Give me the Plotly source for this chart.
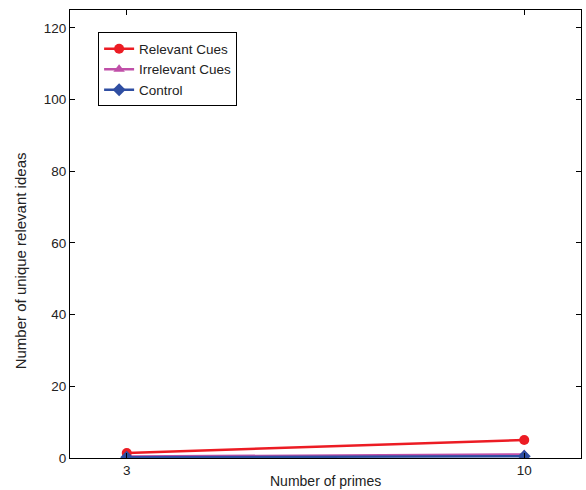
import plotly.graph_objects as go

primes = [3, 10]
relevant = [1.4, 5.0]
irrelevant = [0.4, 1.0]
control = [0.2, 0.5]

series = [
    ("Relevant Cues", relevant, "#ec1c24", "circle"),
    ("Irrelevant Cues", irrelevant, "#c04fa8", "triangle-up"),
    ("Control", control, "#2f4ea2", "diamond"),
]

fig = go.Figure()
for name, vals, col, sym in series:
    fig.add_trace(go.Scatter(
        x=primes, y=vals, name=name, mode="lines+markers",
        line=dict(color=col, width=2.5),
        marker=dict(symbol=sym, size=10, color=col),
    ))

axis_common = dict(
    showline=True, linecolor="black", linewidth=1, mirror="ticks",
    ticks="inside", ticklen=5, tickcolor="black", showgrid=False, zeroline=False,
    automargin=False,
    tickfont=dict(family="Liberation Sans, Arial", size=13.5, color="#222"),
)

fig.update_layout(
    width=586, height=490,
    margin=dict(l=70, r=5, t=10, b=32),
    paper_bgcolor="white", plot_bgcolor="white",
    font=dict(family="Liberation Sans, Arial", size=13, color="#222"),
    showlegend=True,
    legend=dict(
        x=0.055, y=0.95, xanchor="left", yanchor="top",
        bordercolor="black", borderwidth=1, bgcolor="white",
        font=dict(size=13.5), tracegroupgap=0, itemwidth=30,
    ),
    xaxis=dict(range=[2, 11], tickvals=[3, 10], ticktext=["3", "10"], **axis_common),
    yaxis=dict(range=[0, 125], tickvals=[0, 20, 40, 60, 80, 100, 120], **axis_common),
    annotations=[
        dict(text="Number of primes", xref="paper", yref="paper", x=0.5, y=-0.03,
             xanchor="center", yanchor="top", showarrow=False, font=dict(size=14)),
        dict(text="Number of unique relevant ideas", xref="paper", yref="paper",
             x=-0.097, y=0.44, xanchor="center", yanchor="middle", textangle=-90,
             showarrow=False, font=dict(size=15)),
    ],
)

fig.write_html("out.html")
